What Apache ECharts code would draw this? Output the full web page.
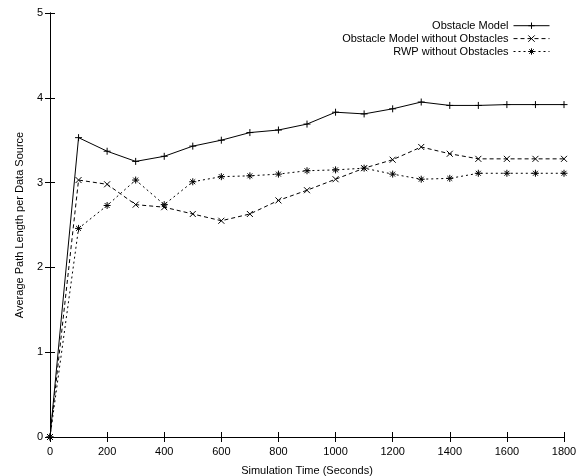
<!DOCTYPE html>
<html><head><meta charset="utf-8">
<script src="https://cdn.jsdelivr.net/npm/echarts@6/dist/echarts.min.js"></script>
<style>html,body{margin:0;padding:0;background:#fff}#c{width:579px;height:476px}</style>
</head><body><div id="c"></div>
<script>
var times = [0,100,200,300,400,500,600,700,800,900,1000,1100,1200,1300,1400,1500,1600,1700,1800];
var obstacleModel = [0,3.53,3.37,3.25,3.31,3.43,3.50,3.59,3.62,3.69,3.83,3.81,3.87,3.95,3.91,3.91,3.92,3.92,3.92];
var obstacleModelNoObs = [0,3.03,2.98,2.74,2.71,2.63,2.55,2.63,2.79,2.91,3.04,3.17,3.27,3.42,3.34,3.28,3.28,3.28,3.28];
var rwpNoObs = [0,2.46,2.73,3.03,2.74,3.01,3.07,3.08,3.10,3.14,3.15,3.17,3.10,3.04,3.05,3.11,3.11,3.11,3.11];
var seriesNames = ['Obstacle Model','Obstacle Model without Obstacles','RWP without Obstacles'];

function pairs(v){ return times.map(function(t,i){return [t,v[i]];}); }
var plus = 'path://M0,5L10,5M5,0L5,10';
var cross = 'path://M0,0L10,10M10,0L0,10';
var star = 'path://M0,5L10,5M5,0L5,10M1.5,1.5L8.5,8.5M8.5,1.5L1.5,8.5';
var font = 'Liberation Sans';
var fs = 11;
function mk(name, data, sym, dash, size){
  return {name:name, type:'line', data:pairs(data), symbol:sym, symbolSize:size,
    showAllSymbol:true, animation:false,
    lineStyle:{color:'#000', width:1, type:dash},
    itemStyle:{color:'none', borderColor:'#000', borderWidth:1}};
}
var chart = echarts.init(document.getElementById('c'));
chart.setOption({
  animation:false,
  textStyle:{fontFamily:font},
  grid:{left:50, right:15, top:13, bottom:39, containLabel:false, outerBoundsMode:'none'},
  legend:{orient:'vertical', right:24, top:15, align:'right', itemGap:1.5, itemWidth:36, itemHeight:8,
    lineStyle:{width:1}, itemStyle:{borderWidth:1},
    textStyle:{fontFamily:font, fontSize:fs, color:'#000'}, data:seriesNames},
  xAxis:[{type:'value', min:0, max:1800, interval:200,
    name:'Simulation Time (Seconds)', nameLocation:'middle', nameGap:28,
    nameTextStyle:{fontFamily:font, fontSize:fs, color:'#000'},
    axisLine:{lineStyle:{color:'#000', width:1}},
    axisTick:{inside:true, length:5, lineStyle:{color:'#000'}},
    axisLabel:{color:'#000', fontSize:fs, fontFamily:font, margin:9, formatter:function(v){return String(v);}},
    splitLine:{show:false}},
   {type:'value', position:'top', min:0, max:1800, interval:200,
    axisLine:{lineStyle:{color:'#000', width:1}},
    axisTick:{inside:true, length:5, lineStyle:{color:'#000'}},
    axisLabel:{show:false}, splitLine:{show:false}}],
  yAxis:[{type:'value', min:0, max:5, interval:1,
    name:'Average Path Length per Data Source', nameLocation:'middle', nameGap:25,
    nameTextStyle:{fontFamily:font, fontSize:fs, color:'#000'},
    axisLine:{show:true, lineStyle:{color:'#000', width:1}},
    axisTick:{show:true, inside:true, length:5, lineStyle:{color:'#000'}},
    axisLabel:{color:'#000', fontSize:fs, fontFamily:font, margin:7},
    splitLine:{show:false}},
   {type:'value', position:'right', min:0, max:5, interval:1,
    axisLine:{show:true, lineStyle:{color:'#000', width:1}},
    axisTick:{show:true, inside:true, length:5, lineStyle:{color:'#000'}},
    axisLabel:{show:false}, splitLine:{show:false}}],
  series:[
    mk(seriesNames[0], obstacleModel, plus, 'solid', 7),
    mk(seriesNames[1], obstacleModelNoObs, cross, [4,3], 6),
    mk(seriesNames[2], rwpNoObs, star, [2,3], 7)
  ]
});
</script></body></html>
